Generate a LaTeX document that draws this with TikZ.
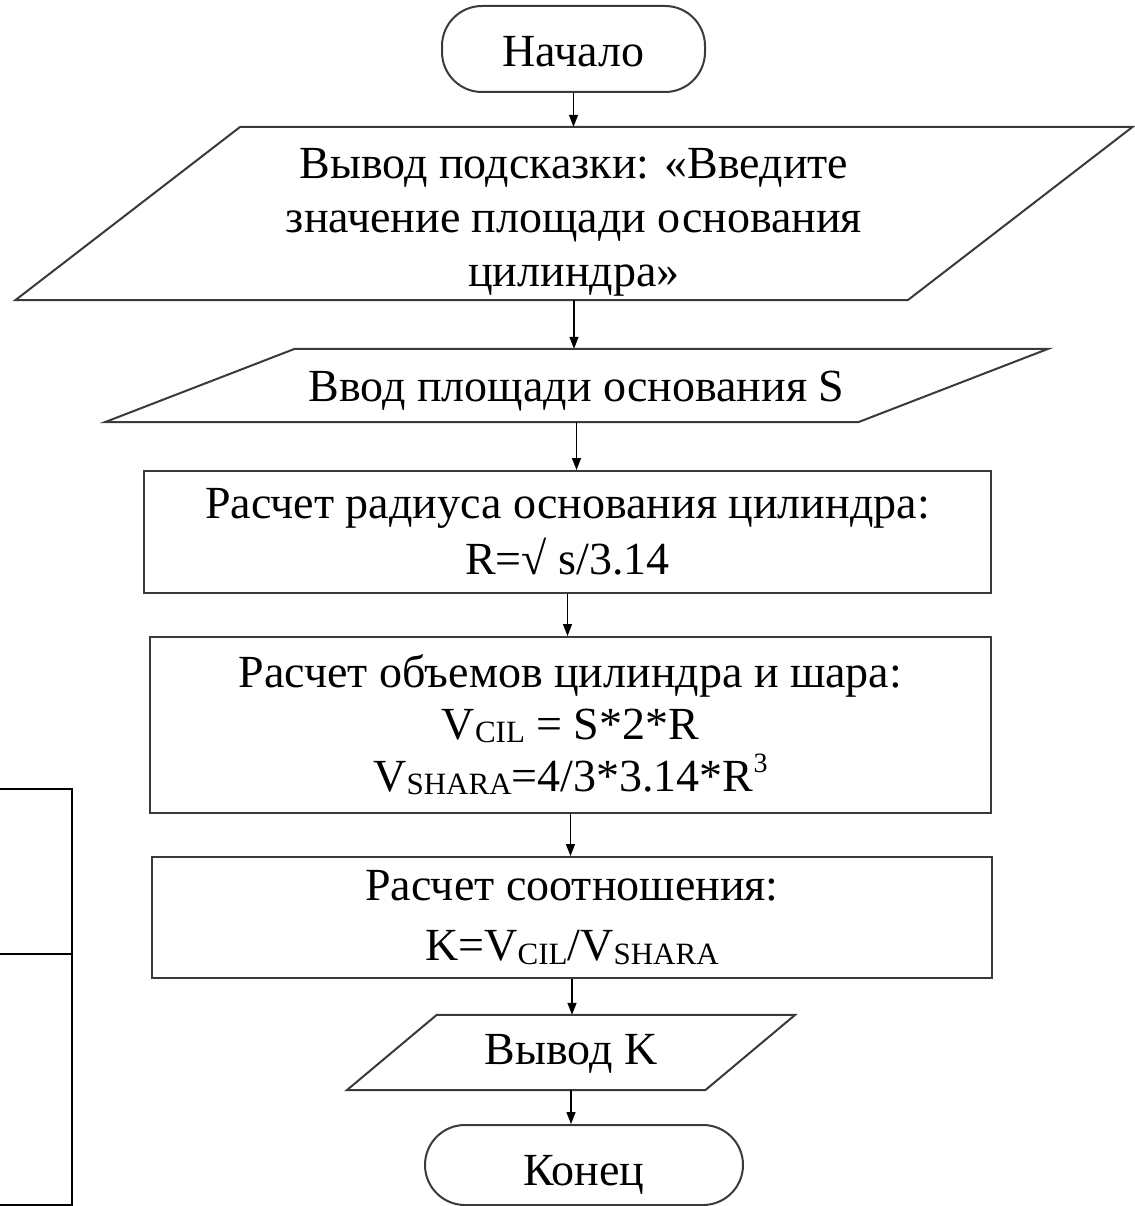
\documentclass[tikz,border=0pt]{standalone}
\usepackage{fontspec}
\setmainfont{Liberation Serif}
\usetikzlibrary{arrows.meta,calc}
\definecolor{edge}{RGB}{58,58,58}
% small index letters set slightly below the baseline, and a raised exponent
\newcommand\lowidx[1]{\raisebox{-0.07em}{\fontsize{31}{31}\selectfont #1}}
\newcommand\upidx[1]{\raisebox{0.42em}{\fontsize{28}{28}\selectfont #1}}
% centred lines of text, drawn lower by the given amount while the box keeps its size
\newcommand\lowered[2]{\raisebox{-#1}[\height][\depth]{\begin{tabular}{@{}c@{}}#2\end{tabular}}}
% outline of an input/output parallelogram around a rectangular band node
\newcommand\drawpara[2]{%
  \draw[outline] ($(#1.south west)+(-#2,0)$) -- ($(#1.north west)+(#2,0)$)
    -- ($(#1.north east)+(#2,0)$) -- ($(#1.south east)+(-#2,0)$) -- cycle;}
\begin{document}
\begin{tikzpicture}[x=1pt,y=-1pt,
  outline/.style={draw=edge, line width=2pt, line join=miter},
  txt/.style={align=center, font=\fontsize{46}{54}\selectfont, inner sep=0pt},
  term/.style={txt, outline, rectangle, rounded corners=40pt},
  procbox/.style={txt, outline, rectangle},
  band/.style={txt, rectangle, draw=none},
  arr/.style={line width=1.4pt, -{Triangle[length=12pt,width=9pt]}},
  frame/.style={line width=2.6pt, black, line cap=rect}]
\fill[white] (0,0) rectangle (1134,1206);
\useasboundingbox (0,0) rectangle (1134,1206);

\node[term, minimum width=263pt, minimum height=86pt] (start) at (573.5,49)
  {\lowered{7pt}{Начало}};

\node[band, minimum width=892pt, minimum height=173pt] (prompt) at (574,213.5)
  {\lowered{8pt}{Вывод подсказки: «Введите\\значение площади основания\\цилиндра»}};
\drawpara{prompt}{112.5}

\node[band, minimum width=753pt, minimum height=73pt] (input) at (576.5,385.5)
  {\lowered{5pt}{Ввод площади основания S}};
\drawpara{input}{95}

\node[procbox, minimum width=847pt, minimum height=122pt] (radius) at (567.5,532)
  {Расчет радиуса основания цилиндра:\\[2pt]R=√ s/3.14};

\node[procbox, minimum width=841pt, minimum height=176pt] (volumes) at (570.5,725)
  {Расчет объемов цилиндра и шара:\\[-2pt]V\lowidx{CIL} = S*2*R\\[-2pt]V\lowidx{SHARA}=4/3*3.14*R\upidx{3}};

\node[procbox, minimum width=840pt, minimum height=121pt] (ratio) at (572,917.5)
  {Расчет соотношения:\\[6pt]K=V\lowidx{CIL}/V\lowidx{SHARA}};

\node[band, minimum width=358pt, minimum height=75pt] (output) at (571,1052.5)
  {\lowered{1pt}{Вывод K}};
\drawpara{output}{45}

\node[term, minimum width=318pt, minimum height=80pt] (stop) at (584,1165)
  {\lowered{10pt}{Конец}};

% flow connectors
\draw[arr] (start) -- (start |- prompt.north);
\draw[arr] (prompt) -- (prompt |- input.north);
\draw[arr] (input) -- (input |- radius.north);
\draw[arr] (radius) -- (radius |- volumes.north);
\draw[arr] (volumes) -- (volumes |- ratio.north);
\draw[arr] (ratio) -- (ratio |- output.north);
\draw[arr] (output) -- (output |- stop.north);

% frame fragment on the left edge
\draw[frame] (0,789) -- (72,789) -- (72,1206);
\draw[frame] (0,954) -- (72,954);
\draw[frame] (0,1205) -- (72,1205);
\end{tikzpicture}
\end{document}
